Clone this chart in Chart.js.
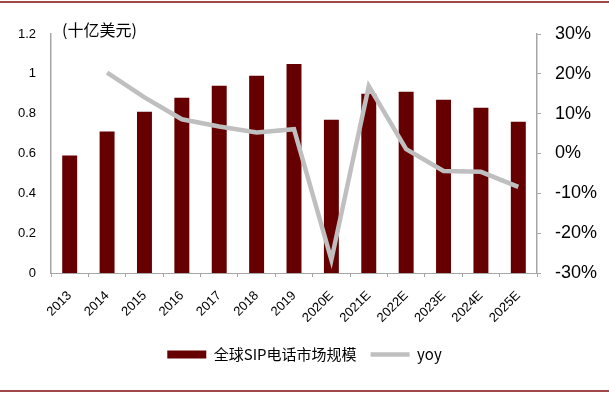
<!DOCTYPE html>
<html>
<head>
<meta charset="utf-8">
<script src="https://cdn.jsdelivr.net/npm/chart.js@4"></script>
<style>
html,body{margin:0;padding:0;background:#fff;}
#wrap{width:609px;height:396px;position:relative;}
</style>
</head>
<body>
<div id="wrap"><canvas id="c" width="609" height="396"></canvas></div>
<script>
const categories = ['2013','2014','2015','2016','2017','2018','2019','2020E','2021E','2022E','2023E','2024E','2025E'];
const marketSize = [0.59,0.71,0.81,0.88,0.94,0.99,1.05,0.77,0.90,0.91,0.87,0.83,0.76];
const yoy = [null,20.3,14.1,8.6,6.8,5.3,6.1,-26.7,16.9,1.1,-4.4,-4.6,-8.4];
const seriesNames = ['全球SIP电话市场规模','yoy'];
const unitLabel = '(十亿美元)';

const BAR = '#660000', LINE = '#BFBFBF', AXIS = '#A6A6A6', FRAME = '#A04848';
const NUM = "'Liberation Sans', Arial, sans-serif";
const CJK = "'Noto Sans CJK SC', 'Noto Sans', sans-serif";

const decor = {
  id: 'decor',
  afterDraw(chart) {
    const ctx = chart.ctx;
    ctx.save();
    ctx.fillStyle = FRAME;
    ctx.fillRect(0, 1, 609, 2);
    ctx.fillRect(0, 390, 609, 2);
    ctx.fillStyle = '#000';
    ctx.font = '16px ' + CJK;
    ctx.textBaseline = 'middle';
    ctx.textAlign = 'left';
    ctx.fillText(unitLabel, 62, 30);
    ctx.restore();
  }
};

new Chart(document.getElementById('c'), {
  data: {
    labels: categories,
    datasets: [
      { type: 'bar', label: seriesNames[0], data: marketSize, backgroundColor: BAR, borderWidth: 0,
        yAxisID: 'y', order: 2, categoryPercentage: 1, barPercentage: 0.4 },
      { type: 'line', label: seriesNames[1], data: yoy, borderColor: LINE, backgroundColor: LINE,
        borderWidth: 4.5, pointRadius: 0, tension: 0, yAxisID: 'y1', order: 1, spanGaps: false }
    ]
  },
  options: {
    responsive: false,
    animation: false,
    layout: { padding: { top: 34, left: 0, right: 0, bottom: 24 } },
    plugins: {
      tooltip: { enabled: false },
      legend: {
        position: 'bottom',
        labels: {
          usePointStyle: true,
          pointStyleWidth: 39,
          boxHeight: 8,
          padding: 14,
          color: '#000',
          font: { family: CJK, size: 15 },
          generateLabels() {
            return [
              { text: seriesNames[0], fillStyle: BAR, strokeStyle: BAR, lineWidth: 0, pointStyle: 'rect', datasetIndex: 0, hidden: false },
              { text: seriesNames[1], fillStyle: LINE, strokeStyle: LINE, lineWidth: 4.5, pointStyle: 'line', datasetIndex: 1, hidden: false }
            ];
          }
        }
      }
    },
    scales: {
      x: {
        offset: true,
        grid: { display: true, drawOnChartArea: false, offset: true, color: AXIS, tickLength: 4, tickColor: AXIS },
        border: { color: AXIS, width: 1 },
        ticks: { color: '#000', font: { family: NUM, size: 13 }, maxRotation: 45, minRotation: 45, padding: 11, autoSkip: false },
        afterFit(s) { s.height = 60; }
      },
      y: {
        position: 'left',
        min: 0, max: 1.2,
        ticks: { stepSize: 0.2, color: '#000', font: { family: NUM, size: 13 }, padding: 15,
          callback: v => +v.toFixed(1) + '' },
        grid: { display: false, drawTicks: false },
        border: { color: AXIS, width: 1.5 },
        afterFit(s) { s.width = 51; }
      },
      y1: {
        position: 'right',
        min: -30, max: 30,
        ticks: { stepSize: 10, color: '#000', font: { family: NUM, size: 18 }, padding: 14,
          callback: v => Math.round(v) + '%' },
        grid: { display: true, drawOnChartArea: false, tickLength: 4, color: AXIS },
        border: { color: AXIS, width: 1.5 },
        afterFit(s) { s.width = 72; }
      }
    }
  },
  plugins: [decor]
});
</script>
</body>
</html>
